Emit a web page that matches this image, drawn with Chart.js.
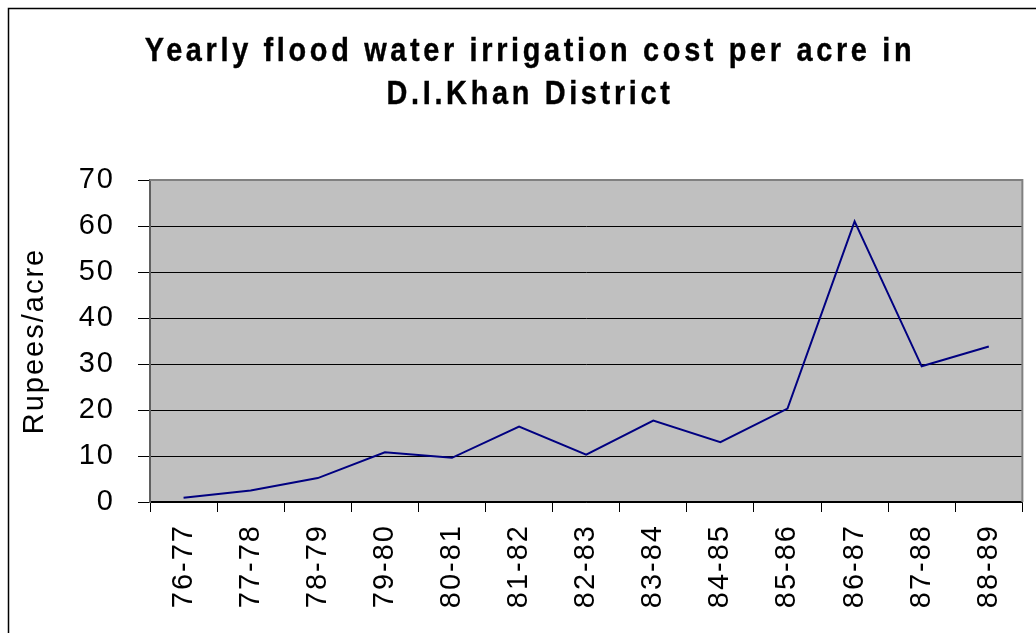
<!DOCTYPE html>
<html>
<head>
<meta charset="utf-8">
<script src="https://cdn.jsdelivr.net/npm/chart.js@4/dist/chart.umd.min.js"></script>
<style>
  html, body { margin: 0; padding: 0; background: #fff; }
  #wrap { width: 1036px; height: 633px; }
</style>
</head>
<body>
<div id="wrap"><canvas id="myChart" width="1036" height="633"></canvas></div>
<script>
// data
const years = ["76-77", "77-78", "78-79", "79-80", "80-81", "81-82", "82-83",
  "83-84", "84-85", "85-86", "86-87", "87-88", "88-89"];
const costPerAcre = [0.9, 2.5, 5.2, 10.8, 9.6, 16.4, 10.3, 17.7, 13.0, 20.3, 61.0, 29.5, 33.8];
const yTicks = [0, 10, 20, 30, 40, 50, 60, 70];
const titleLines = ["Yearly flood water irrigation cost per acre in", "D.I.Khan District"];
const yAxisTitle = "Rupees/acre";

const FONT = "'Liberation Sans', Arial, sans-serif";

// white page, outer frame, grey plot area
const backdrop = {
  id: "backdrop",
  beforeDraw(chart) {
    const { ctx, chartArea: a } = chart;
    ctx.save();
    ctx.fillStyle = "#fff";
    ctx.fillRect(0, 0, chart.width, chart.height);
    ctx.strokeStyle = "#000";
    ctx.lineWidth = 1.5;
    ctx.strokeRect(8.5, 8.5, 1200, 1000);
    ctx.fillStyle = "#c0c0c0";
    ctx.fillRect(a.left, a.top, a.right - a.left, a.bottom - a.top);
    ctx.restore();
    // axis text in the original is a bit spread out
    ctx.letterSpacing = "2px";
  },
  afterDatasetsDraw(chart) {
    const { ctx, chartArea: a } = chart;
    ctx.save();
    ctx.strokeStyle = "#808080";
    ctx.lineWidth = 2;
    ctx.beginPath();
    ctx.moveTo(a.left, a.top);
    ctx.lineTo(a.right, a.top);
    ctx.lineTo(a.right, a.bottom);
    ctx.stroke();
    ctx.restore();
  }
};

// spaced-out bold title, like the old spreadsheet one
const spacedTitle = {
  id: "spacedTitle",
  afterDraw(chart) {
    const { ctx } = chart;
    const baselines = [61, 104];
    ctx.save();
    ctx.fillStyle = "#000";
    ctx.strokeStyle = "#000";
    ctx.lineWidth = 0.4;
    ctx.font = "bold 34px " + FONT;
    ctx.textAlign = "center";
    ctx.textBaseline = "alphabetic";
    ctx.letterSpacing = "4.3px";
    titleLines.forEach((t, i) => {
      ctx.save();
      ctx.translate(530, baselines[i]);
      ctx.scale(0.85, 1);
      ctx.fillText(t, 0, 0);
      ctx.strokeText(t, 0, 0);
      ctx.restore();
    });
    ctx.restore();
    ctx.letterSpacing = "0px";
  }
};

new Chart(document.getElementById("myChart").getContext("2d"), {
  type: "line",
  data: {
    labels: years,
    datasets: [{
      label: yAxisTitle,
      data: costPerAcre,
      borderColor: "#000080",
      borderWidth: 2,
      pointRadius: 0,
      tension: 0,
      fill: false
    }]
  },
  options: {
    responsive: false,
    animation: false,
    layout: { padding: { top: 180, right: 10, left: 0, bottom: 0 } },
    plugins: {
      legend: { display: false },
      tooltip: { enabled: false },
      title: { display: false }
    },
    scales: {
      x: {
        offset: true,
        grid: {
          offset: true,
          drawOnChartArea: false,
          drawTicks: true,
          tickLength: 10,
          color: "#000"
        },
        border: { color: "#000", width: 1.5 },
        ticks: {
          color: "#000",
          font: { family: FONT, size: 29 },
          maxRotation: 90,
          minRotation: 90,
          padding: 12,
          autoSkip: false
        },
        afterFit(scale) { scale.height = 131; }
      },
      y: {
        min: 0,
        max: 70,
        afterBuildTicks(scale) { scale.ticks = yTicks.map(v => ({ value: v })); },
        grid: {
          color: "#000",
          lineWidth: 1,
          tickLength: 12
        },
        border: { color: "#606060", width: 2 },
        ticks: {
          color: "#000",
          font: { family: FONT, size: 29 },
          padding: 23
        },
        title: {
          display: true,
          text: yAxisTitle,
          color: "#000",
          font: { family: FONT, size: 29 },
          padding: { top: 18, bottom: 0 }
        },
        afterFit(scale) { scale.width = 150; }
      }
    }
  },
  plugins: [backdrop, spacedTitle]
});
</script>
</body>
</html>
